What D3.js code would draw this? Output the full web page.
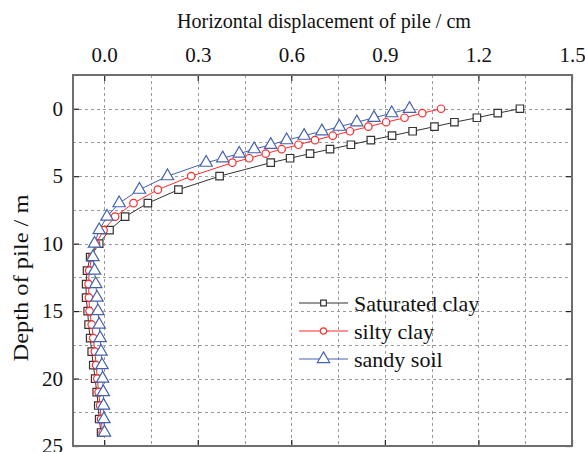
<!DOCTYPE html>
<html>
<head>
<meta charset="utf-8">
<script src="https://cdn.jsdelivr.net/npm/d3@7"></script>
<style>
  body { margin: 0; background: #fff; }
  text { font-family: "Liberation Serif", "Times New Roman", serif; fill: #111; }
</style>
</head>
<body>
<div id="chart"></div>
<script>
const width = 585
const height = 452

// depth of pile (m)
const depths = [0, 0.33, 0.67, 1, 1.33, 1.67, 2, 2.33, 2.67, 3, 3.33, 3.67, 4,
  5, 6, 7, 8, 9, 10, 11, 12, 13, 14, 15, 16, 17, 18, 19, 20, 21, 22, 23, 24]

// horizontal displacement (cm)
const saturatedClay = [1.333, 1.262, 1.195, 1.123, 1.059, 0.989, 0.923, 0.855, 0.791, 0.724, 0.660, 0.596, 0.534,
  0.370, 0.238, 0.140, 0.067, 0.017, -0.016, -0.045, -0.055, -0.058, -0.058, -0.053, -0.050, -0.045, -0.040,
  -0.035, -0.029, -0.024, -0.019, -0.016, -0.010]
const siltyClay = [1.080, 1.020, 0.963, 0.904, 0.847, 0.788, 0.733, 0.676, 0.623, 0.569, 0.518, 0.465, 0.411,
  0.279, 0.172, 0.094, 0.035, -0.002, -0.026, -0.040, -0.048, -0.050, -0.049, -0.047, -0.040, -0.035, -0.030,
  -0.026, -0.022, -0.018, -0.013, -0.010, -0.005]
const sandySoil = [0.979, 0.922, 0.865, 0.810, 0.754, 0.698, 0.641, 0.585, 0.534, 0.481, 0.433, 0.380, 0.327,
  0.203, 0.113, 0.048, 0.009, -0.016, -0.031, -0.036, -0.031, -0.027, -0.023, -0.020, -0.016, -0.013, -0.010,
  -0.007, -0.005, -0.003, -0.002, -0.001, 0.001]

const xTicks = [0, 0.3, 0.6, 0.9, 1.2, 1.5]
const xGrid = [0, 0.15, 0.3, 0.45, 0.6, 0.75, 0.9, 1.05, 1.2, 1.35]
const yTicks = [0, 5, 10, 15, 20, 25]
const yGrid = [0, 2.5, 5, 7.5, 10, 12.5, 15, 17.5, 20, 22.5]

const series = [
  { name: "Saturated clay", values: saturatedClay, color: "#333333", symbol: d3.symbolSquare, size: 56 },
  { name: "silty clay", values: siltyClay, color: "#ff2a2a", symbol: d3.symbolCircle, size: 44 },
  { name: "sandy soil", values: sandySoil, color: "#4462b0", symbol: d3.symbolTriangle, size: 66 },
]

const margin = { top: 75, right: 13, bottom: 6, left: 73 }

const x = d3.scaleLinear().domain([-0.1, 1.5]).range([margin.left, width - margin.right])
const y = d3.scaleLinear().domain([-2.5, 25]).range([margin.top, height - margin.bottom])

const svg = d3.select("#chart").append("svg")
  .attr("width", width)
  .attr("height", height)

// grid
const grid = svg.append("g")
  .attr("stroke", "#9a9a9a")
  .attr("stroke-width", 1)
  .attr("stroke-dasharray", "3,3")
grid.selectAll("line.gx").data(xGrid).join("line")
  .attr("class", "gx")
  .attr("x1", (d) => Math.round(x(d)) + 0.5).attr("x2", (d) => Math.round(x(d)) + 0.5)
  .attr("y1", y(-2.5)).attr("y2", y(25))
grid.selectAll("line.gy").data(yGrid).join("line")
  .attr("class", "gy")
  .attr("y1", (d) => Math.round(y(d)) + 0.5).attr("y2", (d) => Math.round(y(d)) + 0.5)
  .attr("x1", x(-0.1)).attr("x2", x(1.5))

// axes (ticks pointing inward)
const fmt = d3.format(".1f")
const axTop = svg.append("g")
  .attr("transform", `translate(0,${y(-2.5)})`)
  .call(d3.axisTop(x).tickValues(xTicks).tickFormat(fmt).tickSize(-6).tickPadding(13))
const axBottom = svg.append("g")
  .attr("transform", `translate(0,${y(25)})`)
  .call(d3.axisBottom(x).tickValues(xTicks).tickFormat("").tickSize(-6))
const axLeft = svg.append("g")
  .attr("transform", `translate(${x(-0.1)},0)`)
  .call(d3.axisLeft(y).tickValues(yTicks).tickFormat(d3.format("d")).tickSize(-6).tickPadding(10))
const axRight = svg.append("g")
  .attr("transform", `translate(${x(1.5)},0)`)
  .call(d3.axisRight(y).tickValues(yTicks).tickFormat("").tickSize(-6))

for (const g of [axTop, axBottom, axLeft, axRight]) {
  g.select(".domain").remove()
  g.selectAll(".tick line").attr("stroke", "#222").attr("stroke-width", 1.2)
  g.selectAll(".tick text")
    .style("font-family", '"Liberation Serif", serif')
    .style("font-size", "21px")
    .attr("fill", "#111")
}

// frame
svg.append("rect")
  .attr("x", x(-0.1)).attr("y", y(-2.5))
  .attr("width", x(1.5) - x(-0.1)).attr("height", y(25) - y(-2.5))
  .attr("fill", "none").attr("stroke", "#6e6e6e").attr("stroke-width", 2)

// curves
const line = d3.line().x((d) => x(d[0])).y((d) => y(d[1]))

series.forEach((s) => {
  const pts = s.values.map((v, i) => [v, depths[i]])
  const g = svg.append("g")
  g.append("path")
    .datum(pts)
    .attr("fill", "none")
    .attr("stroke", s.color)
    .attr("stroke-width", 1)
    .attr("d", line)
  g.selectAll("path.m").data(pts).join("path")
    .attr("class", "m")
    .attr("transform", (d) => `translate(${x(d[0])},${y(d[1])})`)
    .attr("d", d3.symbol().type(s.symbol).size(s.size))
    .attr("fill", "#fff")
    .attr("stroke", s.color)
    .attr("stroke-width", 1.2)
})

// legend
const legend = svg.append("g").attr("transform", "translate(299,303)")
series.forEach((s, i) => {
  const row = legend.append("g").attr("transform", `translate(0,${i * 28})`)
  row.append("line")
    .attr("x1", 0).attr("x2", 49).attr("y1", 0).attr("y2", 0)
    .attr("stroke", s.color).attr("stroke-width", 1.2)
  row.append("path")
    .attr("transform", "translate(24.5,0)")
    .attr("d", d3.symbol().type(s.symbol).size(i === 2 ? 66 : 32))
    .attr("fill", "#fff")
    .attr("stroke", s.color)
    .attr("stroke-width", 1.2)
  row.append("text")
    .attr("x", 55).attr("y", 0)
    .attr("dy", "0.35em")
    .style("font-size", "22px")
    .text(s.name)
})

// axis titles
svg.append("text")
  .attr("x", 324).attr("y", 28)
  .attr("text-anchor", "middle")
  .attr("textLength", 294)
  .attr("lengthAdjust", "spacingAndGlyphs")
  .style("font-size", "22px")
  .text("Horizontal displacement of pile / cm")

svg.append("text")
  .attr("transform", "translate(28,278) rotate(-90)")
  .attr("text-anchor", "middle")
  .attr("textLength", 167)
  .attr("lengthAdjust", "spacingAndGlyphs")
  .style("font-size", "22px")
  .text("Depth of pile / m")
</script>
</body>
</html>
